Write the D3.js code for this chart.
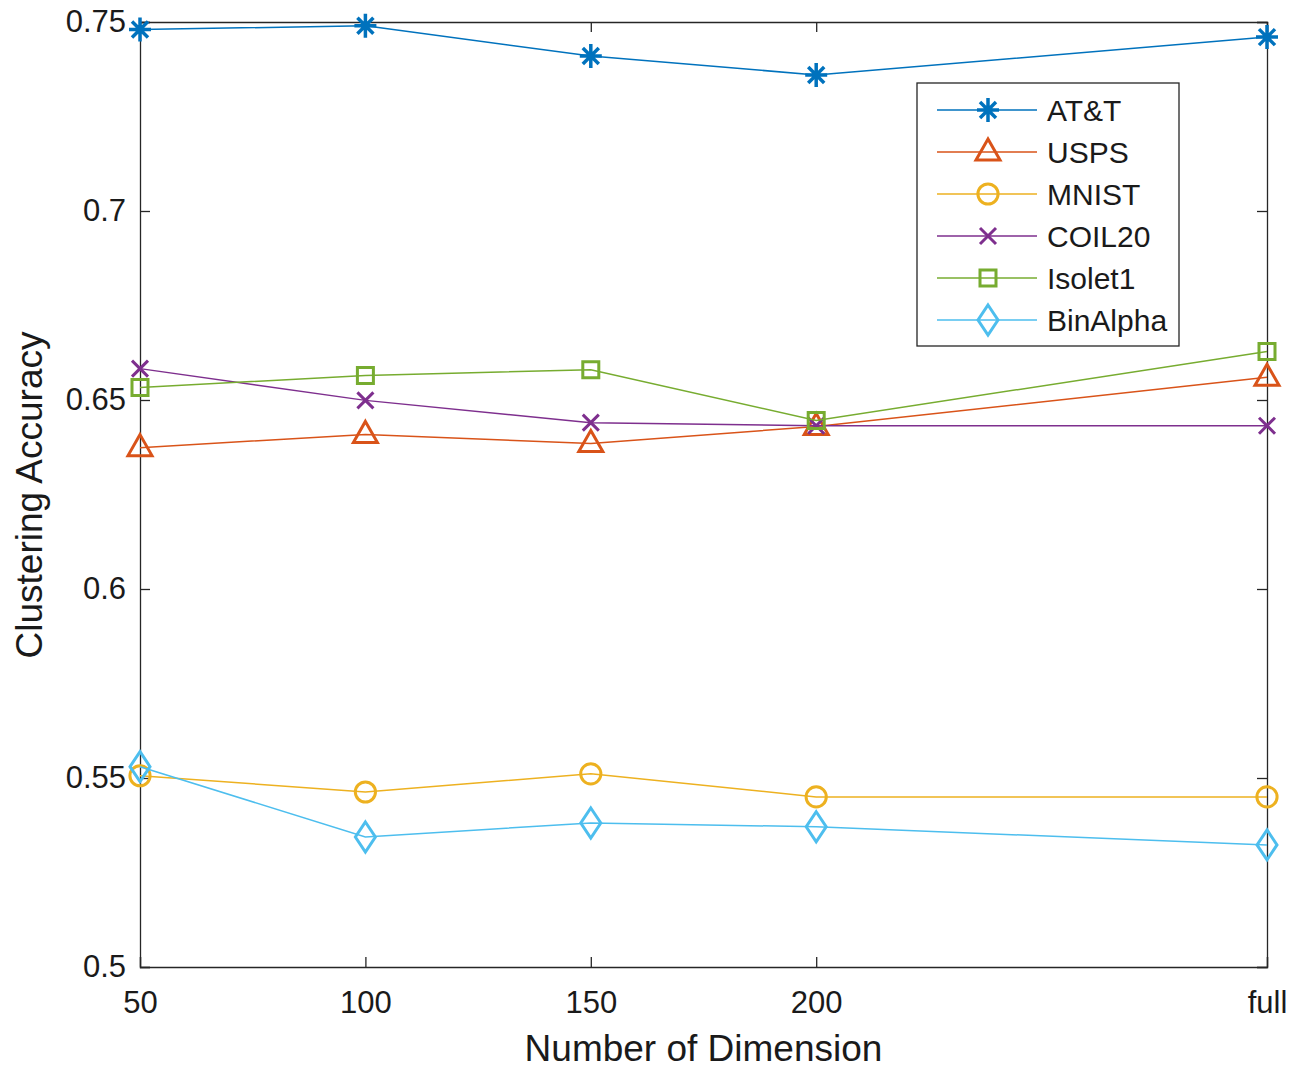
<!DOCTYPE html>
<html>
<head>
<meta charset="utf-8">
<script src="https://cdn.jsdelivr.net/npm/d3@7"></script>
<style>
  body { margin: 0; background: #fff; }
  text { font-family: "Liberation Sans", Arial, sans-serif; fill: #1a1a1a; }
</style>
</head>
<body>
<div id="chart"></div>
<script>
// x positions (the "full" column sits at 300)
var dims = [50, 100, 150, 200, 300];
var dimLabels = ["50", "100", "150", "200", "full"];
var yTicks = [0.5, 0.55, 0.6, 0.65, 0.7, 0.75];

var att      = [0.748, 0.749, 0.741, 0.736, 0.746];
var usps     = [0.6374, 0.6409, 0.6385, 0.643, 0.656];
var mnist    = [0.5506, 0.5463, 0.5511, 0.545, 0.545];
var coil20   = [0.6583, 0.6499, 0.644, 0.6432, 0.6432];
var isolet1  = [0.6533, 0.6565, 0.658, 0.6446, 0.6628];
var binalpha = [0.553, 0.5344, 0.5381, 0.5371, 0.5323];

var series = [
    { name: "AT&T", values: att, color: "#0072BD", marker: "star" },
    { name: "USPS", values: usps, color: "#D95319", marker: "triangle" },
    { name: "MNIST", values: mnist, color: "#EDB120", marker: "circle" },
    { name: "COIL20", values: coil20, color: "#7E2F8E", marker: "cross" },
    { name: "Isolet1", values: isolet1, color: "#77AC30", marker: "square" },
    { name: "BinAlpha", values: binalpha, color: "#4DBEEE", marker: "diamond" }
];

var margin = { top: 22, right: 37, bottom: 102, left: 140 },
    width = 1304 - margin.left - margin.right,
    height = 1069 - margin.top - margin.bottom;

var svg = d3.select("#chart")
    .append("svg")
    .attr("width", 1304)
    .attr("height", 1069)
    .append("g")
    .attr("transform", "translate(" + margin.left + "," + margin.top + ")");

var x = d3.scaleLinear().domain([50, 300]).range([0, width]);
var y = d3.scaleLinear().domain([0.5, 0.75]).range([height, 0]);

// axes, MATLAB style: ticks point inwards, box on
var tickLen = 10;
svg.append("g")
    .attr("transform", "translate(0," + height + ")")
    .call(d3.axisBottom(x).tickValues(dims).tickSize(-tickLen).tickPadding(24)
        .tickFormat(function(d, i) { return dimLabels[i]; }))
    .call(function(g) {
        g.selectAll("text").style("font-size", "31px").attr("fill", "#1a1a1a");
    });
svg.append("g")
    .call(d3.axisTop(x).tickValues(dims).tickSize(-tickLen).tickFormat(""));
svg.append("g")
    .call(d3.axisLeft(y).tickValues(yTicks).tickSize(-tickLen).tickPadding(14)
        .tickFormat(function(d) { return d3.format("")(+d.toFixed(2)); }))
    .call(function(g) {
        g.selectAll("text").style("font-size", "31px").attr("fill", "#1a1a1a");
    });
svg.append("g")
    .attr("transform", "translate(" + width + ",0)")
    .call(d3.axisRight(y).tickValues(yTicks).tickSize(-tickLen).tickFormat(""));

svg.selectAll(".domain, .tick line").attr("stroke", "#262626").attr("stroke-width", 1.3);

// axis labels
svg.append("text")
    .attr("x", width / 2)
    .attr("y", height + 94)
    .attr("text-anchor", "middle")
    .style("font-size", "37px")
    .text("Number of Dimension");

svg.append("text")
    .attr("transform", "rotate(-90)")
    .attr("x", -(495 - margin.top))
    .attr("y", -(margin.left - 42))
    .attr("text-anchor", "middle")
    .style("font-size", "37px")
    .text("Clustering Accuracy");

// marker shapes
function drawMarker(g, type, color) {
    var s = g.append("path")
        .attr("fill", "none")
        .attr("stroke", color)
        .attr("stroke-width", 3);
    if (type === "star") {
        s.attr("d", "M0,-12V12M-11,0H11M-8,-8L8,8M-8,8L8,-8").attr("stroke-width", 3.5);
    } else if (type === "triangle") {
        s.attr("d", "M0,-13L12,8H-12Z");
    } else if (type === "circle") {
        s.attr("d", d3.symbol(d3.symbolCircle, 320)());
    } else if (type === "cross") {
        s.attr("d", "M-8,-8L8,8M-8,8L8,-8");
    } else if (type === "square") {
        s.attr("d", "M-8,-8H8V8H-8Z");
    } else if (type === "diamond") {
        s.attr("d", "M0,-15L10,0L0,15L-10,0Z");
    }
}

var line = d3.line()
    .x(function(d, i) { return x(dims[i]); })
    .y(function(d) { return y(d); });

series.forEach(function(s) {
    svg.append("path")
        .datum(s.values)
        .attr("fill", "none")
        .attr("stroke", s.color)
        .attr("stroke-width", 1.5)
        .attr("d", line);

    s.values.forEach(function(v, i) {
        var g = svg.append("g")
            .attr("transform", "translate(" + x(dims[i]) + "," + y(v) + ")");
        drawMarker(g, s.marker, s.color);
    });
});

// legend
var legend = svg.append("g")
    .attr("transform", "translate(" + (917 - margin.left) + "," + (83 - margin.top) + ")");
legend.append("rect")
    .attr("width", 262)
    .attr("height", 263)
    .attr("fill", "#fff")
    .attr("stroke", "#262626")
    .attr("stroke-width", 1.3);

series.forEach(function(s, i) {
    var row = legend.append("g")
        .attr("transform", "translate(0," + (27 + i * 42) + ")");
    row.append("line")
        .attr("x1", 20).attr("x2", 120)
        .attr("stroke", s.color)
        .attr("stroke-width", 1.5);
    var m = row.append("g").attr("transform", "translate(71,0)");
    drawMarker(m, s.marker, s.color);
    row.append("text")
        .attr("x", 130)
        .attr("dy", "0.36em")
        .style("font-size", "30px")
        .text(s.name);
});
</script>
</body>
</html>
